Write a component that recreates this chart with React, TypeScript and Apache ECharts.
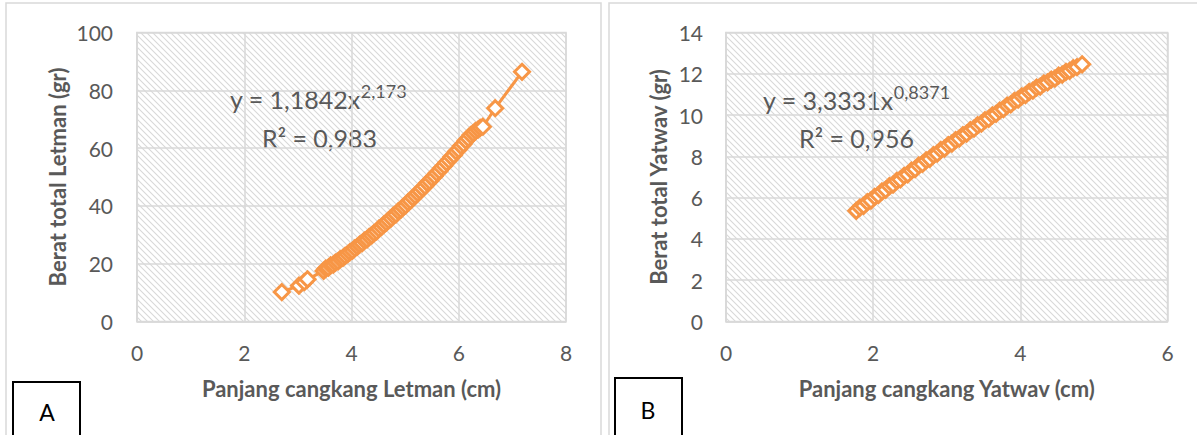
import React, { useEffect, useRef } from "react";
import * as echarts from "echarts";

// Panel A: Letman
const lengthA = [2.70, 3.02, 3.12, 3.18,
  3.48, 3.52, 3.57, 3.61, 3.66, 3.70, 3.75, 3.79, 3.84, 3.88, 3.93, 3.97, 4.02, 4.06, 4.11, 4.15, 4.20, 4.24, 4.29, 4.33,
  4.38, 4.42, 4.47, 4.51, 4.56, 4.60, 4.65, 4.69, 4.74, 4.78, 4.83, 4.87, 4.92, 4.96, 5.01, 5.05, 5.10, 5.14, 5.19, 5.23,
  5.28, 5.32, 5.37, 5.41, 5.46, 5.50, 5.55, 5.59, 5.64, 5.68, 5.73, 5.77, 5.82, 5.86, 5.91, 5.95, 6.00, 6.04, 6.09, 6.13,
  6.18, 6.22, 6.27, 6.31, 6.36, 6.40, 6.45,
  6.68, 7.18];
const weightA = [10.2, 12.4, 13.6, 14.6,
  17.5, 18.3, 18.6, 19.4, 19.7, 20.4, 20.8, 21.6, 22.0, 22.7, 23.3, 24.0, 24.5, 25.3, 25.9, 26.6, 27.1, 28.0, 28.4, 29.3,
  29.8, 30.6, 31.2, 32.1, 32.7, 33.5, 34.2, 35.0, 35.7, 36.6, 37.1, 38.1, 38.7, 39.6, 40.2, 41.2, 41.8, 42.8, 43.5, 44.4,
  45.1, 46.1, 46.8, 47.9, 48.5, 49.6, 50.3, 51.4, 52.1, 53.2, 53.9, 55.0, 55.8, 56.9, 57.6, 58.8, 59.5, 60.7, 61.4, 62.6,
  63.4, 64.5, 65.1, 65.9, 66.4, 67.0, 67.4,
  73.8, 86.4];

// Panel B: Yatwav
const lengthB = [1.77, 1.82, 1.87, 1.92, 1.97, 2.02, 2.07, 2.12, 2.17, 2.22, 2.27, 2.32, 2.37, 2.42, 2.47, 2.52,
  2.57, 2.62, 2.67, 2.72, 2.77, 2.82, 2.87, 2.92, 2.97, 3.02, 3.07, 3.12, 3.17, 3.22, 3.27, 3.32,
  3.37, 3.42, 3.47, 3.52, 3.57, 3.62, 3.67, 3.72, 3.77, 3.82, 3.87, 3.92, 3.97, 4.02, 4.07, 4.12,
  4.17, 4.22, 4.27, 4.32, 4.37, 4.42, 4.47, 4.52, 4.57, 4.62, 4.67, 4.72, 4.77, 4.84];
const weightB = [5.36, 5.52, 5.60, 5.78, 5.86, 6.04, 6.12, 6.30, 6.38, 6.56, 6.63, 6.81, 6.88, 7.06, 7.13, 7.31,
  7.38, 7.56, 7.63, 7.81, 7.88, 8.06, 8.13, 8.31, 8.38, 8.55, 8.62, 8.79, 8.86, 9.03, 9.10, 9.27,
  9.34, 9.51, 9.58, 9.75, 9.82, 9.99, 10.06, 10.22, 10.29, 10.46, 10.52, 10.69, 10.75, 10.91, 10.97, 11.12,
  11.18, 11.33, 11.38, 11.53, 11.58, 11.72, 11.77, 11.91, 11.96, 12.09, 12.14, 12.27, 12.32, 12.46];

const xTitleA = "Panjang cangkang Letman (cm)";
const yTitleA = "Berat total Letman (gr)";
const xTitleB = "Panjang cangkang Yatwav (cm)";
const yTitleB = "Berat total Yatwav (gr)";
const eqA = ["y = 1,1842x", "2,173", "R² = 0,983"];
const eqB = ["y = 3,3331x", "0,8371", "R² = 0,956"];

const FONT = "Lato";
const GRAY = "#595959";
const GRID = "#d9d9d9";
const ORANGE = "#f79646";

function makeHatch() {
  const c = document.createElement("canvas");
  c.width = 6;
  c.height = 6;
  const ctx = c.getContext("2d")!;
  ctx.fillStyle = "#ffffff";
  ctx.fillRect(0, 0, 6, 6);
  ctx.strokeStyle = "#d8d8d8";
  ctx.lineWidth = 1.1;
  for (const off of [-6, 0, 6]) {
    ctx.beginPath();
    ctx.moveTo(off - 1, -1);
    ctx.lineTo(off + 7, 7);
    ctx.stroke();
  }
  return c;
}

export default function App() {
  const ref = useRef<HTMLDivElement>(null);
  useEffect(() => {
    document.body.style.margin = "0";
    const chart = echarts.init(ref.current!, null, { renderer: "svg" });
    const hatch = makeHatch();
    const pattern: any = { image: hatch, repeat: "repeat", imageWidth: 6, imageHeight: 6 };

    const xAxisBase = (max: number, name: string, gridIndex: number) => ({
      type: "value",
      gridIndex,
      min: 0,
      max,
      interval: 2,
      name,
      nameLocation: "middle",
      nameGap: 56,
      nameTextStyle: { fontFamily: FONT, fontSize: 22, fontWeight: "bold", color: GRAY },
      axisLine: { show: true, lineStyle: { color: GRID, width: 1.5 } },
      axisTick: { show: false },
      axisLabel: { margin: 20, fontFamily: FONT, fontSize: 21, color: GRAY },
      splitLine: { show: true, lineStyle: { color: GRID, width: 1.5 } },
    });
    const yAxisBase = (max: number, interval: number, name: string, gridIndex: number, gap: number, lmargin: number) => ({
      type: "value",
      gridIndex,
      min: 0,
      max,
      interval,
      name,
      nameLocation: "middle",
      nameGap: gap,
      nameRotate: 90,
      nameTextStyle: { fontFamily: FONT, fontSize: 22, fontWeight: "bold", color: GRAY },
      axisLine: { show: true, lineStyle: { color: GRID, width: 1.5 } },
      axisTick: { show: false },
      axisLabel: { margin: lmargin, fontFamily: FONT, fontSize: 21, color: GRAY },
      splitLine: { show: true, lineStyle: { color: GRID, width: 1.5 } },
    });

    const seriesBase = (xs: number[], ys: number[], idx: number) => ({
      type: "line",
      xAxisIndex: idx,
      yAxisIndex: idx,
      data: xs.map((x, i) => [x, ys[i]]),
      symbol: "diamond",
      symbolSize: 15,
      showAllSymbol: true,
      lineStyle: { color: ORANGE, width: 3 },
      itemStyle: { color: "#ffffff", borderColor: ORANGE, borderWidth: 3 },
      emphasis: { disabled: true },
    });

    const eqText = (x: number, y: number, eq: string[]) => ({
      type: "text",
      left: x,
      top: y,
      style: {
        text: `{m|${eq[0]}}{s|${eq[1]}}`,
        rich: {
          m: { fontFamily: FONT, fontSize: 25, fill: GRAY, lineHeight: 30 },
          s: { fontFamily: FONT, fontSize: 18, fill: GRAY, padding: [0, 0, 16, 0] },
        },
      },
    });

    const textEl = (x: number, y: number, t: string, size: number) => ({
      type: "text",
      x,
      y,
      style: { text: t, fontFamily: FONT, fontSize: size, fill: GRAY, textAlign: "left", textVerticalAlign: "middle" },
    });

    chart.setOption({
      animation: false,
      grid: [
        { left: 137, right: 631, top: 32.5, bottom: 113.5, show: true, backgroundColor: pattern, borderColor: GRID, borderWidth: 1.5 },
        { left: 726, right: 29.5, top: 32.5, bottom: 113.5, show: true, backgroundColor: pattern, borderColor: GRID, borderWidth: 1.5 },
      ],
      xAxis: [xAxisBase(8, xTitleA, 0), xAxisBase(6, xTitleB, 1)],
      yAxis: [yAxisBase(100, 20, yTitleA, 0, 69, 24), yAxisBase(14, 2, yTitleB, 1, 57, 23)],
      series: [seriesBase(lengthA, weightA, 0), seriesBase(lengthB, weightB, 1)],
      graphic: [
        { type: "rect", shape: { x: 6, y: 3, width: 595, height: 450 }, style: { fill: "none", stroke: GRID, lineWidth: 1.5 }, z: -10 },
        { type: "rect", shape: { x: 609, y: 3, width: 620, height: 450 }, style: { fill: "none", stroke: GRID, lineWidth: 1.5 }, z: -10 },
        { type: "rect", shape: { x: 13, y: 382, width: 67, height: 60 }, style: { fill: "#ffffff", stroke: "#000000", lineWidth: 2 } },
        { type: "text", x: 47, y: 412, style: { text: "A", fontFamily: FONT, fontSize: 23, fill: "#000000", textAlign: "center", textVerticalAlign: "middle" } },
        { type: "rect", shape: { x: 615, y: 378, width: 67, height: 64 }, style: { fill: "#ffffff", stroke: "#000000", lineWidth: 2 } },
        { type: "text", x: 648, y: 410, style: { text: "B", fontFamily: FONT, fontSize: 23, fill: "#000000", textAlign: "center", textVerticalAlign: "middle" } },
        eqText(230, 82, eqA),
        textEl(262, 138, eqA[2], 25),
        eqText(763, 83, eqB),
        textEl(799, 138, eqB[2], 25),
      ],
    });
    return () => chart.dispose();
  }, []);
  return <div ref={ref} style={{ width: 1197, height: 435 }} />;
}
